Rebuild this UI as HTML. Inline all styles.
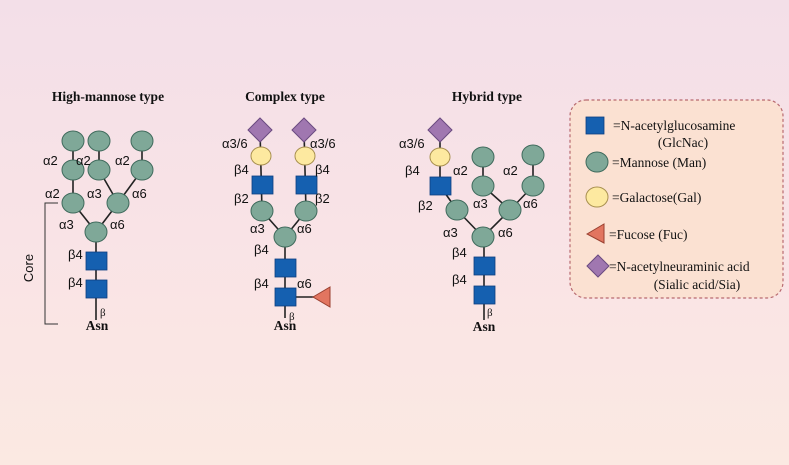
<!DOCTYPE html>
<html><head><meta charset="utf-8"><style>
html,body{margin:0;padding:0}
body{width:789px;height:465px;overflow:hidden;background:linear-gradient(#f3dfe8,#f9e3e6 50%,#fbe9e2)}
svg{display:block}
.l{font-family:"Liberation Sans",sans-serif;font-size:13px;fill:#111}
.t{font-family:"Liberation Serif",serif;font-weight:bold;font-size:13.5px;fill:#111}
.g{font-family:"Liberation Serif",serif;font-size:13.5px;fill:#111}
.m{fill:#7fa898;stroke:#3f6a5c;stroke-width:1}
.s{fill:#1560b0;stroke:#0d3f80;stroke-width:.8}
.y{fill:#fde9a0;stroke:#a89050;stroke-width:1}
.d{fill:#a077b0;stroke:#6a4a80;stroke-width:1}
.f{fill:#e27560;stroke:#9a4030;stroke-width:1}
line{stroke:#222;stroke-width:1.6}
</style></head><body>
<svg width="789" height="465" viewBox="0 0 789 465">
<!-- High-mannose -->
<text class="t" x="108" y="101" text-anchor="middle">High-mannose type</text>
<g>
<line x1="73" y1="141" x2="73" y2="203"/><line x1="99" y1="141" x2="99" y2="170"/><line x1="142" y1="141" x2="142" y2="170"/>
<line x1="99" y1="170" x2="118" y2="203"/><line x1="142" y1="170" x2="118" y2="203"/>
<line x1="73" y1="203" x2="96" y2="232"/><line x1="118" y1="203" x2="96" y2="232"/>
<line x1="96" y1="232" x2="96" y2="320"/>
<ellipse class="m" cx="73" cy="141" rx="11" ry="10"/><ellipse class="m" cx="99" cy="141" rx="11" ry="10"/><ellipse class="m" cx="142" cy="141" rx="11" ry="10"/>
<ellipse class="m" cx="73" cy="170" rx="11" ry="10"/><ellipse class="m" cx="99" cy="170" rx="11" ry="10"/><ellipse class="m" cx="142" cy="170" rx="11" ry="10"/>
<ellipse class="m" cx="73" cy="203" rx="11" ry="10"/><ellipse class="m" cx="118" cy="203" rx="11" ry="10"/>
<ellipse class="m" cx="96" cy="232" rx="11" ry="10"/>
<rect class="s" x="86" y="252" width="21" height="18"/><rect class="s" x="86" y="280" width="21" height="18"/>
<text class="l" x="43" y="165">α2</text><text class="l" x="76" y="165">α2</text><text class="l" x="115" y="165">α2</text>
<text class="l" x="45" y="198">α2</text><text class="l" x="87" y="198">α3</text><text class="l" x="132" y="198">α6</text>
<text class="l" x="59" y="229">α3</text><text class="l" x="110" y="229">α6</text>
<text class="l" x="68" y="259">β4</text><text class="l" x="68" y="287">β4</text>
<text class="g" x="100" y="316" style="font-size:11px">β</text>
<text class="t" x="97" y="330" text-anchor="middle">Asn</text>
<path d="M58 203 H45 V324 H58" fill="none" stroke="#333" stroke-width="1"/>
<text class="l" x="0" y="0" transform="translate(33,268) rotate(-90)" text-anchor="middle" style="font-size:13px">Core</text>
</g>
<!-- Complex -->
<text class="t" x="285" y="101" text-anchor="middle">Complex type</text>
<g>
<line x1="260" y1="130" x2="262" y2="211"/><line x1="304" y1="130" x2="306" y2="211"/>
<line x1="262" y1="211" x2="285" y2="237"/><line x1="306" y1="211" x2="285" y2="237"/>
<line x1="285" y1="237" x2="285" y2="318"/><line x1="285" y1="297" x2="315" y2="297"/>
<path class="d" d="M260 118 L272 130 L260 142 L248 130Z"/><path class="d" d="M304 118 L316 130 L304 142 L292 130Z"/>
<ellipse class="y" cx="261" cy="156" rx="10" ry="9"/><ellipse class="y" cx="305" cy="156" rx="10" ry="9"/>
<rect class="s" x="252" y="176" width="21" height="18"/><rect class="s" x="296" y="176" width="21" height="18"/>
<ellipse class="m" cx="262" cy="211" rx="11" ry="10"/><ellipse class="m" cx="306" cy="211" rx="11" ry="10"/>
<ellipse class="m" cx="285" cy="237" rx="11" ry="10"/>
<rect class="s" x="275" y="259" width="21" height="18"/><rect class="s" x="275" y="288" width="21" height="18"/>
<path class="f" d="M313 297 L330 287 L330 307Z"/>
<text class="l" x="222" y="148">α3/6</text><text class="l" x="310" y="148">α3/6</text>
<text class="l" x="234" y="174">β4</text><text class="l" x="315" y="174">β4</text>
<text class="l" x="234" y="203">β2</text><text class="l" x="315" y="203">β2</text>
<text class="l" x="250" y="233">α3</text><text class="l" x="297" y="233">α6</text>
<text class="l" x="254" y="254">β4</text><text class="l" x="254" y="288">β4</text><text class="l" x="297" y="288">α6</text>
<text class="g" x="289" y="320" style="font-size:11px">β</text>
<text class="t" x="285" y="330" text-anchor="middle">Asn</text>
</g>
<!-- Hybrid -->
<text class="t" x="487" y="101" text-anchor="middle">Hybrid type</text>
<g>
<line x1="440" y1="130" x2="440" y2="186"/><line x1="440" y1="186" x2="457" y2="210"/>
<line x1="483" y1="157" x2="483" y2="186"/><line x1="533" y1="155" x2="533" y2="186"/>
<line x1="483" y1="186" x2="510" y2="210"/><line x1="533" y1="186" x2="510" y2="210"/>
<line x1="457" y1="210" x2="483" y2="237"/><line x1="510" y1="210" x2="483" y2="237"/>
<line x1="484" y1="237" x2="484" y2="320"/>
<path class="d" d="M440 118 L452 130 L440 142 L428 130Z"/>
<ellipse class="y" cx="440" cy="157" rx="10" ry="9"/>
<rect class="s" x="430" y="177" width="21" height="18"/>
<ellipse class="m" cx="483" cy="157" rx="11" ry="10"/><ellipse class="m" cx="533" cy="155" rx="11" ry="10"/>
<ellipse class="m" cx="483" cy="186" rx="11" ry="10"/><ellipse class="m" cx="533" cy="186" rx="11" ry="10"/>
<ellipse class="m" cx="457" cy="210" rx="11" ry="10"/><ellipse class="m" cx="510" cy="210" rx="11" ry="10"/>
<ellipse class="m" cx="483" cy="237" rx="11" ry="10"/>
<rect class="s" x="474" y="257" width="21" height="18"/><rect class="s" x="474" y="286" width="21" height="18"/>
<text class="l" x="399" y="148">α3/6</text><text class="l" x="405" y="175">β4</text>
<text class="l" x="453" y="175">α2</text><text class="l" x="503" y="175">α2</text>
<text class="l" x="418" y="210">β2</text><text class="l" x="473" y="208">α3</text><text class="l" x="523" y="208">α6</text>
<text class="l" x="443" y="237">α3</text><text class="l" x="498" y="237">α6</text>
<text class="l" x="452" y="257">β4</text><text class="l" x="452" y="284">β4</text>
<text class="g" x="487" y="316" style="font-size:11px">β</text>
<text class="t" x="484" y="331" text-anchor="middle">Asn</text>
</g>
<!-- Legend -->
<rect x="570" y="100" width="213" height="198" rx="16" fill="#fbe1d2" stroke="#b86a70" stroke-width="1.2" stroke-dasharray="3,2.5"/>
<rect class="s" x="586" y="117" width="18" height="17"/>
<text class="g" x="613" y="130">=N-acetylglucosamine</text>
<text class="g" x="683" y="147" text-anchor="middle">(GlcNac)</text>
<ellipse class="m" cx="597" cy="162" rx="11" ry="10"/>
<text class="g" x="612" y="167">=Mannose (Man)</text>
<ellipse class="y" cx="597" cy="197" rx="11" ry="10"/>
<text class="g" x="612" y="202">=Galactose(Gal)</text>
<path class="f" d="M587 234 L604 224 L604 243Z"/>
<text class="g" x="609" y="239">=Fucose (Fuc)</text>
<path class="d" d="M598 255 L609 266 L598 277 L587 266Z"/>
<text class="g" x="609" y="271">=N-acetylneuraminic acid</text>
<text class="g" x="697" y="289" text-anchor="middle">(Sialic acid/Sia)</text>
</svg>
</body></html>
